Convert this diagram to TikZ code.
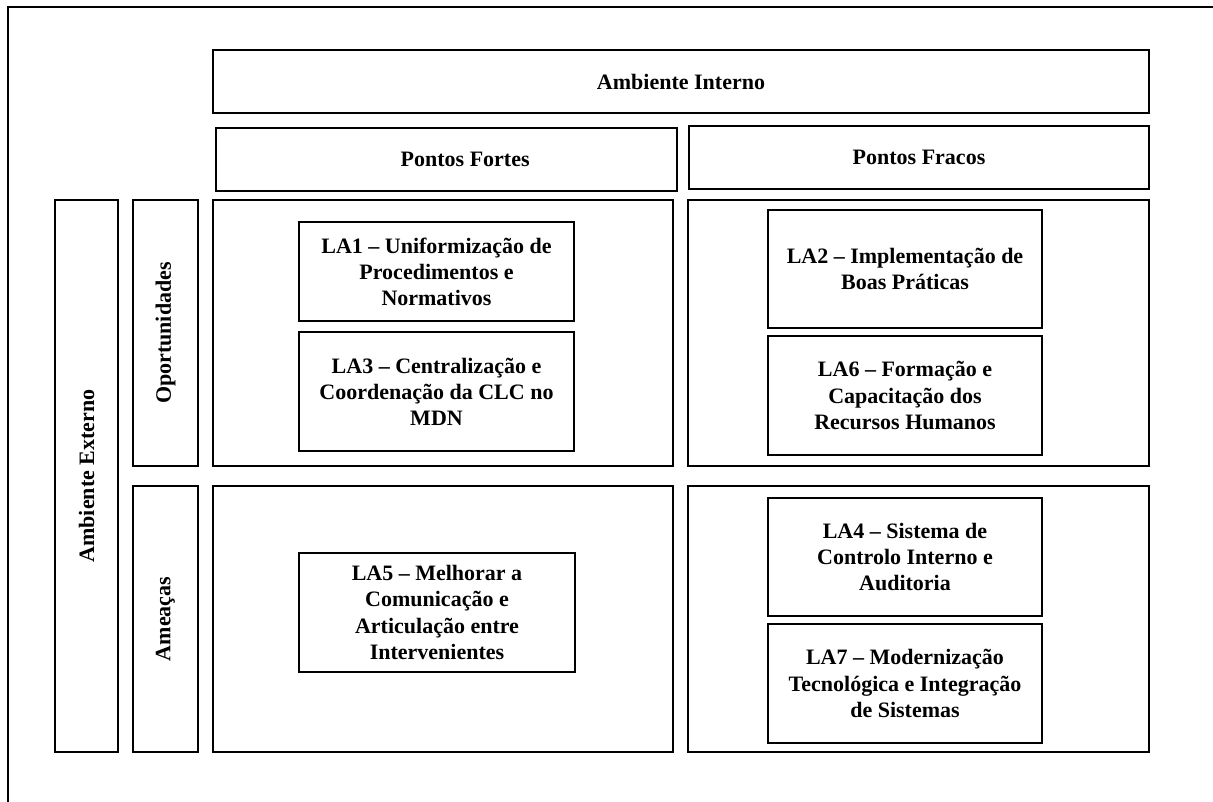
\documentclass[tikz,border=0pt]{standalone}
\usepackage{fontspec}
\setmainfont{Liberation Serif}
\usetikzlibrary{fit}
\begin{document}
\begin{tikzpicture}[x=0.75pt,y=-0.75pt,
  box/.style={draw, line width=1.15pt, inner sep=0pt},
  lbl/.style={inner sep=0pt, align=center, font=\bfseries\fontsize{16.5}{19.6}\selectfont},
  frame/.style={line width=1.9pt}
]
\useasboundingbox (0,0) rectangle (1213,802);
\coordinate (fbl) at (8,802);
\coordinate (ftl) at (8,7);
\coordinate (ftr) at (1213,7);
\draw[frame] (fbl) -- (ftl) -- (ftr);

% headers
\node[box, fit={(213,50) (1149,113)}] (ai) {};
\node[lbl] (ait) at (ai.center) {Ambiente Interno};
\node[box, fit={(216,128) (677,191)}] (pf) {};
\node[lbl] (pft) at ([xshift=14pt]pf.center) {Pontos Fortes};
\node[box, fit={(689,126) (1149,189)}] (pw) {};
\node[lbl] (pwt) at (pw.center) {Pontos Fracos};

% left side
\node[box, fit={(55,200) (118,752)}] (ae) {};
\node[lbl, rotate=90] (aet) at (ae.center) {Ambiente Externo};
\node[box, fit={(133,200) (198,466)}] (op) {};
\node[lbl, rotate=90] (opt) at (op.center) {Oportunidades};
\node[box, fit={(133,486) (198,752)}] (am) {};
\node[lbl, rotate=90] (amt) at (am.center) {Ameaças};

% quadrants
\node[box, fit={(213,200) (673,466)}] (of) {};
\node[box, fit={(688,200) (1149,466)}] (ow) {};
\node[box, fit={(213,486) (673,752)}] (tf) {};
\node[box, fit={(688,486) (1149,752)}] (tw) {};

% inner boxes
\node[box, fit={(299,222) (574,321)}] (la1) {};
\node[lbl] (la1t) at (la1.center) {LA1 – Uniformização de\\Procedimentos e\\Normativos};
\node[box, fit={(299,332) (574,451)}] (la3) {};
\node[lbl] (la3t) at (la3.center) {LA3 – Centralização e\\Coordenação da CLC no\\MDN};
\node[box, fit={(768,210) (1042,328)}] (la2) {};
\node[lbl] (la2t) at (la2.center) {LA2 – Implementação de\\Boas Práticas};
\node[box, fit={(768,336) (1042,455)}] (la6) {};
\node[lbl] (la6t) at (la6.center) {LA6 – Formação e\\Capacitação dos\\Recursos Humanos};
\node[box, fit={(299,553) (575,672)}] (la5) {};
\node[lbl] (la5t) at (la5.center) {LA5 – Melhorar a\\Comunicação e\\Articulação entre\\Intervenientes};
\node[box, fit={(768,498) (1042,616)}] (la4) {};
\node[lbl] (la4t) at (la4.center) {LA4 – Sistema de\\Controlo Interno e\\Auditoria};
\node[box, fit={(768,624) (1042,743)}] (la7) {};
\node[lbl] (la7t) at (la7.center) {LA7 – Modernização\\Tecnológica e Integração\\de Sistemas};
\end{tikzpicture}
\end{document}
